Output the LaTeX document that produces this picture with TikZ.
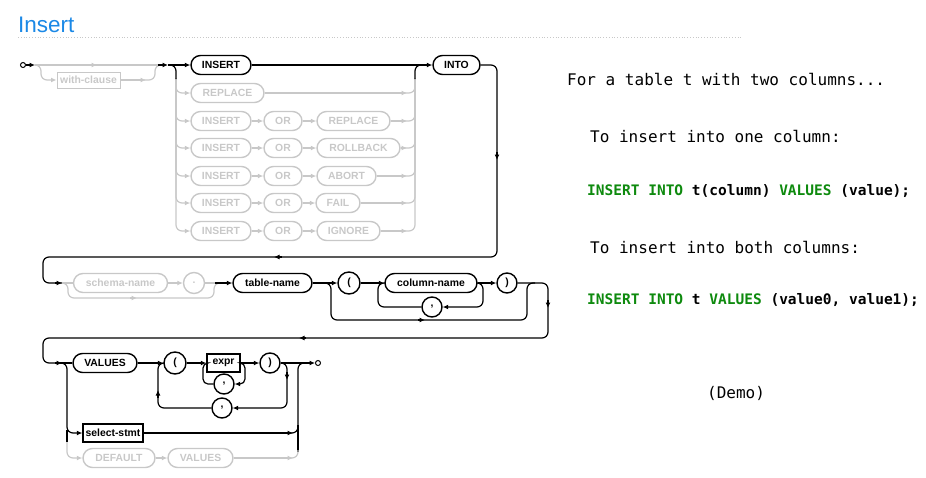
\documentclass[tikz,border=0pt]{standalone}
\usepackage{fontspec}
\setmainfont{Liberation Sans}
\newfontfamily\monof{DejaVu Sans Mono}
\usetikzlibrary{arrows.meta}
\definecolor{lg}{HTML}{C8C8C8}
\definecolor{tblue}{HTML}{1A88E6}
\definecolor{sqlgreen}{HTML}{0E8A0E}
\tikzset{
 lbl/.style={font=\bfseries\fontsize{10.4}{11}\selectfont},
 pill/.style={lbl, draw, rounded corners=9.5pt, minimum height=19pt, inner sep=0pt, line width=1.4pt},
 boxn/.style={lbl, draw, rectangle, minimum height=18pt, inner sep=0pt, line width=1.4pt},
 circn/.style={lbl, draw, circle, minimum size=21pt, inner sep=0pt, line width=1.4pt},
 term/.style={draw, circle, minimum size=5pt, inner sep=0pt, line width=1pt},
 gr/.style={draw=lg, text=lg},
 bl/.style={draw=black, line width=1.2pt},
 gl/.style={draw=lg, line width=1.2pt},
 arr/.style={-{Latex[length=5.5pt,width=5pt]}},
 rc/.style={rounded corners=6pt},
 mono/.style={font=\monof\fontsize{16}{18}\selectfont, inner sep=0pt, anchor=base west},
 monob/.style={font=\monof\bfseries\fontsize{14.5}{16}\selectfont, inner sep=0pt, anchor=base west},
}
\begin{document}
\begin{tikzpicture}[x=1pt,y=-1pt]
\useasboundingbox (0,0) rectangle (926,477);
% title
\node[anchor=base west, inner sep=0pt, text=tblue, font=\fontsize{22.5}{24}\selectfont] (title) at (18,32) {Insert};
\draw[lg, line width=0.8pt, dotted] (18,37) -- (743,37);

% ---------- row 1 ----------
\node[term] (s0) at (23,65) {};
\node[boxn, gr, line width=1pt, minimum width=63pt, minimum height=16pt] (wc) at (88.5,80) {with-clause};
\node[pill, minimum width=60pt] (ins) at (221,65) {INSERT};
\node[pill, minimum width=47pt] (into) at (456.5,65) {INTO};
\node[pill, gr, minimum width=73pt] (rep) at (227.5,93) {REPLACE};
\foreach \r/\y/\w/\t/\c in {3/121/73/REPLACE/353.5, 4/148/83/ROLLBACK/358.5, 5/176/59/ABORT/346.5, 6/203/44/FAIL/338, 7/231/63/IGNORE/348.5}{
  \node[pill, gr, minimum width=60pt] (i\r) at (221,\y) {INSERT};
  \node[pill, gr, minimum width=38pt] (o\r) at (283,\y) {OR};
  \node[pill, gr, minimum width=\w pt] (k\r) at (\c,\y) {\t};
  \draw[gl, arr, rc] (176,78) |- (i\r.west);
  \draw[gl, arr] (i\r.east) -- (o\r.west);
  \draw[gl, arr] (o\r.east) -- (k\r.west);
  \draw[gl, arr] (k\r.east) -- (407,\y);
  \draw[gl, rc] (404,\y) -| (415,78);
}
\draw[gl, arr, rc] (176,78) |- (rep.west);
\draw[gl, arr] (rep.east) -- (407,93);
\draw[gl, rc] (404,93) -| (415,78);

\draw[bl, arr] (s0.east) -- (35,65);
\draw[gl] (35,65) -- (160,65);
\draw[gl, arr] (90,65) -- (97,65);
\draw[gl, arr, rc] (34,65) -| (41,80) -- (wc.west);
\draw[gl, arr] (wc.east) -- (146,80);
\draw[gl, rc] (144,80) -| (155,65) -- (160,65);
\draw[bl, arr] (158,65) -- (168,65);
\draw[bl, arr] (168,65) -- (ins.west);
\draw[bl, rc] (168,65) -| (176,79);
\draw[bl, arr] (ins.east) -- (into.west);
\draw[bl, rc] (415,79) |- (425,65);

% INTO down and back
\draw[bl, rc] (into.east) -| (497,257) -| (43,283) -- (62,283);
\draw[bl, arr] (497,152) -- (497,160);
\draw[bl, arr] (282,257) -- (274,257);
\draw[bl, arr] (55,283) -- (62,283);

% ---------- row 2 ----------
\node[pill, gr, minimum width=94pt] (sch) at (120.5,283) {schema-name};
\node[circn, gr] (dot) at (194,283) {.};
\node[pill, minimum width=79pt] (tab) at (272.5,283) {table-name};
\node[circn, minimum size=22pt] (lp) at (349,283) {(};
\node[pill, minimum width=92pt] (col) at (431,283) {column-name};
\node[circn, minimum size=20pt] (cm1) at (432,307) {,};
\node[circn, minimum size=20pt] (rp) at (507,283) {)};

\draw[gl] (62,283) -- (sch.west);
\draw[gl, rc] (62,283) -| (68,298) -| (214,283) -- (218,283);
\draw[gl, arr] (130,298) -- (137,298);
\draw[gl, arr] (sch.east) -- (dot.west);
\draw[gl] (dot.east) -- (216,283);
\draw[bl, arr] (215,283) -- (tab.west);
\draw[bl, arr] (tab.east) -- (lp.west);
\draw[bl, rc] (324,283) -| (331,320) -| (527,283) -- (535,283);
\draw[bl, arr] (418,320) -- (425,320);
\draw[bl, arr] (lp.east) -- (col.west);
\draw[bl, arr, rc] (col.east) -| (483,307) -- (cm1.east);
\draw[bl, rc] (cm1.west) -| (378,283) -- (385,283);
\draw[bl, arr] (col.east) -- (rp.west);
\draw[bl, rc] (rp.east) -| (548,338) -| (43,363) -- (62,363);
\draw[bl, arr] (548,300) -- (548,308);
\draw[bl, arr] (306,338) -- (299,338);

% ---------- row 3 ----------
\node[pill, minimum width=64pt] (val) at (105,363) {VALUES};
\node[circn, minimum size=22pt] (lp2) at (175,363) {(};
\node[boxn, minimum width=33pt] (expr) at (223.5,363) {expr};
\node[circn, minimum size=20pt] (cm2) at (224,384) {,};
\node[circn, minimum size=20pt] (rp2) at (270,363) {)};
\node[circn, minimum size=20pt] (cm3) at (222,408) {,};
\node[term] (e0) at (318,363) {};
\node[boxn, minimum width=60pt] (sel) at (113,433) {select-stmt};
\node[pill, gr, minimum width=72pt] (def) at (119,458) {DEFAULT};
\node[pill, gr, minimum width=65pt] (val2) at (200.5,458) {VALUES};

\draw[bl, arr] (55,363) -- (62,363);
\draw[bl] (60,363) -- (val.west);
\draw[bl, arr, rc] (60,363) -| (67,433) -- (sel.west);
\draw[bl] (67,430) -- (67,442);
\draw[gl, arr, rc] (67,442) |- (def.west);
\draw[bl, arr] (val.east) -- (lp2.west);
\draw[bl, arr] (lp2.east) -- (expr.west);
\draw[bl, arr, rounded corners=5pt] (expr.east) -| (245,384) -- (cm2.east);
\draw[bl, rounded corners=5pt] (cm2.west) -| (203,363) -- (207,363);
\draw[bl, arr] (expr.east) -- (rp2.west);
\draw[bl, arr, rc] (281,363) -| (287,408) -- (cm3.east);
\draw[bl, arr] (287,372) -- (287,380);
\draw[bl, rc] (cm3.west) -| (158,363) -- (164,363);
\draw[bl, arr] (158,398) -- (158,390);
\draw[bl, arr] (rp2.east) -- (e0.west);
\draw[bl, arr] (sel.east) -- (293,433);
\draw[bl, rc] (290,433) -| (298,363) -- (304,363);
\draw[bl] (298,425) -- (298,452);
\draw[gl, arr] (def.east) -- (val2.west);
\draw[gl, arr] (val2.east) -- (293,458);
\draw[gl, rc] (290,458) -| (298,450);

% ---------- right text ----------
\node[mono] (t1) at (567,85) {For a table t with two columns...};
\node[mono] (t2) at (590,142) {To insert into one column:};
\node[monob] (t3) at (587,195) {\textcolor{sqlgreen}{INSERT INTO} t(column) \textcolor{sqlgreen}{VALUES} (value);};
\node[mono] (t4) at (590,253) {To insert into both columns:};
\node[monob] (t5) at (587,304) {\textcolor{sqlgreen}{INSERT INTO} t \textcolor{sqlgreen}{VALUES} (value0, value1);};
\node[mono] (t6) at (707,398) {(Demo)};
\end{tikzpicture}
\end{document}
